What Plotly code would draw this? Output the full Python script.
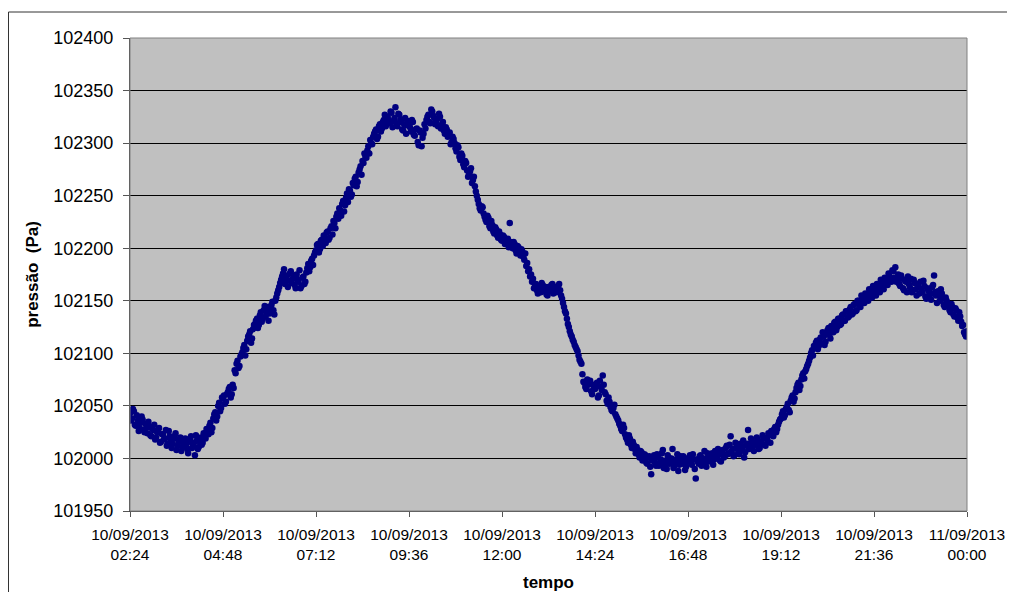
import plotly.graph_objects as go
from datetime import datetime, timedelta

# Pressure readings (Pa). "a" arrays: every 3 min from 10/09/2013 02:24;
# "b" arrays: the readings taken 1.5 min after each "a" reading.
seg1a = [102043,102038,102045,102031,102036,102029,102040,102027,102033,102024,102030,102021,
         102027,102018,102025,102029,102016,102023,102019,102012,102026,102017,102014,102021,
         102008,102016,102020,102011,102017,102013,102005,102018,102010,102015,102022,102009,
         102016,102013,102024,102019,102027,102031,102025,102038,102044,102040,102053,102048]
seg1b = [102036,102047,102032,102041,102026,102034,102037,102025,102030,102035,102022,102028,
         102032,102020,102026,102015,102023,102018,102027,102014,102021,102010,102019,102024,
         102012,102018,102007,102014,102019,102009,102016,102021,102012,102003,102017,102011,
         102020,102015,102022,102028,102023,102034,102029,102042,102036,102050,102045,102058]
seg2a = [102057,102052,102061,102066,102058,102070,102084,102090,102086,102097,102101,102108,
         102104,102116,102121,102114,102127,102131,102124,102136,102130,102141,102135,102144,
         102138,102146,102141,102150,102157,102163,102170,102176,102166,102174,102169,102178,
         102171,102165,102175,102168,102162,102172,102166,102177,102185,102182,102190,102193]
seg2b = [102060,102054,102063,102068,102061,102067,102081,102093,102088,102099,102105,102098,
         102112,102118,102110,102123,102128,102133,102127,102139,102133,102145,102139,102131,
         102143,102149,102137,102153,102160,102167,102173,102180,102170,102163,102176,102167,
         102174,102162,102170,102179,102164,102173,102168,102181,102178,102188,102184,102196]
seg3a = [102198,102204,102199,102208,102212,102205,102216,102210,102221,102226,102219,102233,
         102238,102231,102245,102241,102252,102256,102249,102262,102266,102259,102272,102278,
         102283,102290,102286,102297,102303,102299,102309,102313,102306,102318,102314,102322,
         102316,102325,102319,102329,102321,102334,102316,102327,102320,102312,102324,102317]
seg3b = [102203,102196,102207,102202,102210,102215,102208,102219,102213,102224,102230,102228,
         102236,102242,102235,102248,102244,102255,102251,102260,102268,102263,102275,102270,
         102281,102287,102293,102290,102300,102306,102311,102304,102316,102311,102320,102327,
         102318,102322,102330,102315,102324,102319,102328,102322,102313,102318,102309,102321]
seg4a = [102318,102311,102320,102307,102314,102298,102310,102305,102318,102322,102327,102319,
         102330,102324,102321,102316,102325,102318,102312,102315,102306,102310,102301,102304,
         102295,102298,102287,102290,102280,102283,102274,102270,102276,102265,102259,102250,
         102242,102236,102239,102230,102225,102229,102219,102222,102214,102218,102210,102213]
seg4b = [102315,102322,102308,102313,102301,102312,102297,102309,102314,102325,102320,102332,
         102326,102318,102323,102328,102314,102320,102309,102313,102308,102299,102306,102300,
         102292,102296,102284,102288,102277,102281,102268,102273,102262,102268,102254,102246,
         102238,102240,102233,102227,102231,102221,102226,102216,102220,102212,102216,102208]
seg5a = [102207,102211,102205,102209,102224,102203,102206,102198,102202,102196,102199,102192,
         102195,102186,102180,102175,102171,102166,102160,102163,102158,102165,102161,102156,
         102163,102159,102166,102162,102158,102164,102160,102152,102144,102138,102128,102121,
         102116,102111,102106,102102,102094,102090,102073,102068,102075,102071,102064,102070]
seg5b = [102212,102204,102208,102201,102206,102200,102204,102195,102201,102193,102197,102189,
         102183,102178,102173,102168,102162,102166,102157,102162,102167,102159,102163,102155,
         102161,102165,102157,102163,102159,102166,102155,102148,102140,102133,102125,102118,
         102113,102108,102104,102098,102092,102080,102072,102066,102070,102074,102061,102067]
seg6a = [102066,102072,102060,102068,102079,102063,102055,102058,102049,102045,102051,102040,
         102036,102031,102026,102029,102020,102015,102019,102010,102013,102005,102008,102001,
         102006,101999,102003,101995,102002,101985,102000,101996,102004,101993,101999,102008,
         101994,101990,102001,101997,102009,101993,101999,101988,102002,101995,101999,101992]
seg6b = [102069,102058,102074,102065,102070,102061,102052,102054,102046,102048,102042,102038,
         102033,102028,102032,102023,102018,102022,102013,102016,102009,102011,102004,102007,
         101998,102004,101996,102001,101992,101998,102003,101993,102001,101996,102005,101991,
         101998,102003,101995,102000,101991,101997,102004,101994,101999,102002,101989,101997]
seg7a = [101998,102003,101994,101999,101981,101997,102002,101993,102000,101996,102005,101998,
         102003,101994,102007,102001,102004,101997,102008,102002,102012,102005,102021,102009,
         102003,102011,102006,102014,102008,102001,102012,102027,102010,102016,102007,102013,
         102018,102010,102015,102020,102012,102017,102022,102026,102021,102030,102028,102035]
seg7b = [102001,101996,102004,101990,101999,101995,102003,101998,102007,101992,102001,101997,
         102005,101999,102003,102009,101998,102006,102001,102010,102004,102013,102007,102002,
         102015,102009,102004,102012,102017,102006,102014,102009,102019,102012,102015,102020,
         102009,102016,102022,102013,102019,102024,102015,102023,102028,102025,102032,102037]
seg8a = [102038,102045,102041,102049,102046,102055,102060,102057,102067,102072,102069,102079,
         102076,102085,102090,102096,102103,102107,102110,102104,102113,102109,102116,102111,
         102122,102118,102126,102120,102130,102125,102133,102128,102137,102131,102140,102135,
         102144,102138,102147,102141,102150,102144,102153,102148,102156,102150,102158,102153]
seg8b = [102042,102039,102047,102052,102044,102058,102054,102063,102070,102065,102075,102081,
         102083,102088,102093,102100,102098,102106,102112,102107,102115,102120,102108,102118,
         102124,102114,102123,102129,102122,102133,102127,102136,102131,102140,102134,102142,
         102137,102146,102140,102150,102146,102155,102149,102157,102152,102161,102156,102164]
seg9a = [102160,102155,102163,102158,102167,102161,102170,102165,102173,102168,102178,102182,
         102171,102166,102174,102162,102169,102158,102166,102171,102160,102167,102155,102163,
         102168,102158,102164,102152,102160,102156,102163,102174,102155,102159,102150,102157,
         102146,102153,102148,102141,102147,102137,102143,102134,102139,102130,102127,102118,
         102121]
seg9b = [102157,102166,102159,102170,102163,102172,102167,102176,102170,102179,102172,102168,
         102175,102164,102171,102160,102168,102173,102163,102158,102170,102161,102166,102157,
         102161,102169,102154,102162,102158,102151,102165,102158,102148,102155,102161,102152,
         102144,102150,102145,102139,102144,102135,102141,102131,102135,102126,102120,102116]

start_time = "2013-09-10 02:24"
end_time = "2013-09-11 00:00"
step_minutes = 3.0
offset_b_minutes = 1.5

tick_times = ["2013-09-10 02:24", "2013-09-10 04:48", "2013-09-10 07:12", "2013-09-10 09:36",
              "2013-09-10 12:00", "2013-09-10 14:24", "2013-09-10 16:48", "2013-09-10 19:12",
              "2013-09-10 21:36", "2013-09-11 00:00"]
tick_labels = ["10/09/2013<br>02:24", "10/09/2013<br>04:48", "10/09/2013<br>07:12",
               "10/09/2013<br>09:36", "10/09/2013<br>12:00", "10/09/2013<br>14:24",
               "10/09/2013<br>16:48", "10/09/2013<br>19:12", "10/09/2013<br>21:36",
               "11/09/2013<br>00:00"]
y_ticks = [101950, 102000, 102050, 102100, 102150, 102200, 102250, 102300, 102350, 102400]
y_tick_labels = [str(v) for v in y_ticks]

series_a = seg1a + seg2a + seg3a + seg4a + seg5a + seg6a + seg7a + seg8a + seg9a
series_b = seg1b + seg2b + seg3b + seg4b + seg5b + seg6b + seg7b + seg8b + seg9b
t0 = datetime.strptime(start_time, "%Y-%m-%d %H:%M")
times, pressure = [], []
for i, v in enumerate(series_a):
    times.append(t0 + timedelta(minutes=step_minutes * i))
    pressure.append(v)
    if i < len(series_b):
        times.append(t0 + timedelta(minutes=step_minutes * i + offset_b_minutes))
        pressure.append(series_b[i])

fig = go.Figure()
fig.add_trace(go.Scatter(
    x=times, y=pressure, mode="markers",
    marker=dict(color="#000080", size=6.5, line=dict(width=0)),
    showlegend=False, hoverinfo="x+y"))

PL, PT, PW, PH = 130, 38, 837, 473   # plot area in page pixels (body margin is 8px)

fig.update_layout(
    width=999, height=584,
    margin=dict(l=122, r=40, t=30, b=81, autoexpand=False),
    paper_bgcolor="white",
    plot_bgcolor="#C0C0C0",
    font=dict(family="Liberation Sans, Arial, sans-serif", size=15, color="black"),
    xaxis=dict(
        type="date",
        range=[start_time, end_time],
        tickmode="array", tickvals=tick_times, ticktext=tick_labels,
        ticks="outside", ticklen=5, tickcolor="#555555",
        ticklabelstandoff=4,
        automargin=False,
        showgrid=False, zeroline=False,
        showline=True, linecolor="#444444", linewidth=1, mirror=False,
        tickfont=dict(size=15.5),
        title=dict(text="<b>tempo</b>", font=dict(size=17), standoff=17),
    ),
    yaxis=dict(
        range=[101950, 102400],
        tickmode="array", tickvals=y_ticks, ticktext=y_tick_labels,
        ticks="outside", ticklen=6, tickcolor="#555555",
        ticklabelstandoff=6,
        automargin=False,
        showgrid=True, gridcolor="#000000", gridwidth=1,
        zeroline=False,
        showline=True, linecolor="#444444", linewidth=1,
        tickfont=dict(size=18),
        title=dict(text="<b>pressão  (Pa)</b>", font=dict(size=17), standoff=10),
    ),
    shapes=[
        dict(type="rect", xref="paper", yref="paper", x0=0, x1=1, y0=0, y1=1,
             line=dict(color="#808080", width=1), fillcolor="rgba(0,0,0,0)", layer="above"),
        # outer chart frame: only its left and top edges fall inside the picture
        dict(type="line", xref="paper", yref="paper",
             x0=(8.5 - PL) / PW, x1=(8.5 - PL) / PW,
             y0=(PT + PH - 640) / PH, y1=(PT + PH - 12) / PH,
             line=dict(color="#333333", width=1)),
        dict(type="line", xref="paper", yref="paper",
             x0=(8.5 - PL) / PW, x1=(1030 - PL) / PW,
             y0=(PT + PH - 12) / PH, y1=(PT + PH - 12) / PH,
             line=dict(color="#333333", width=1)),
    ],
)

fig.write_html("out.html")
